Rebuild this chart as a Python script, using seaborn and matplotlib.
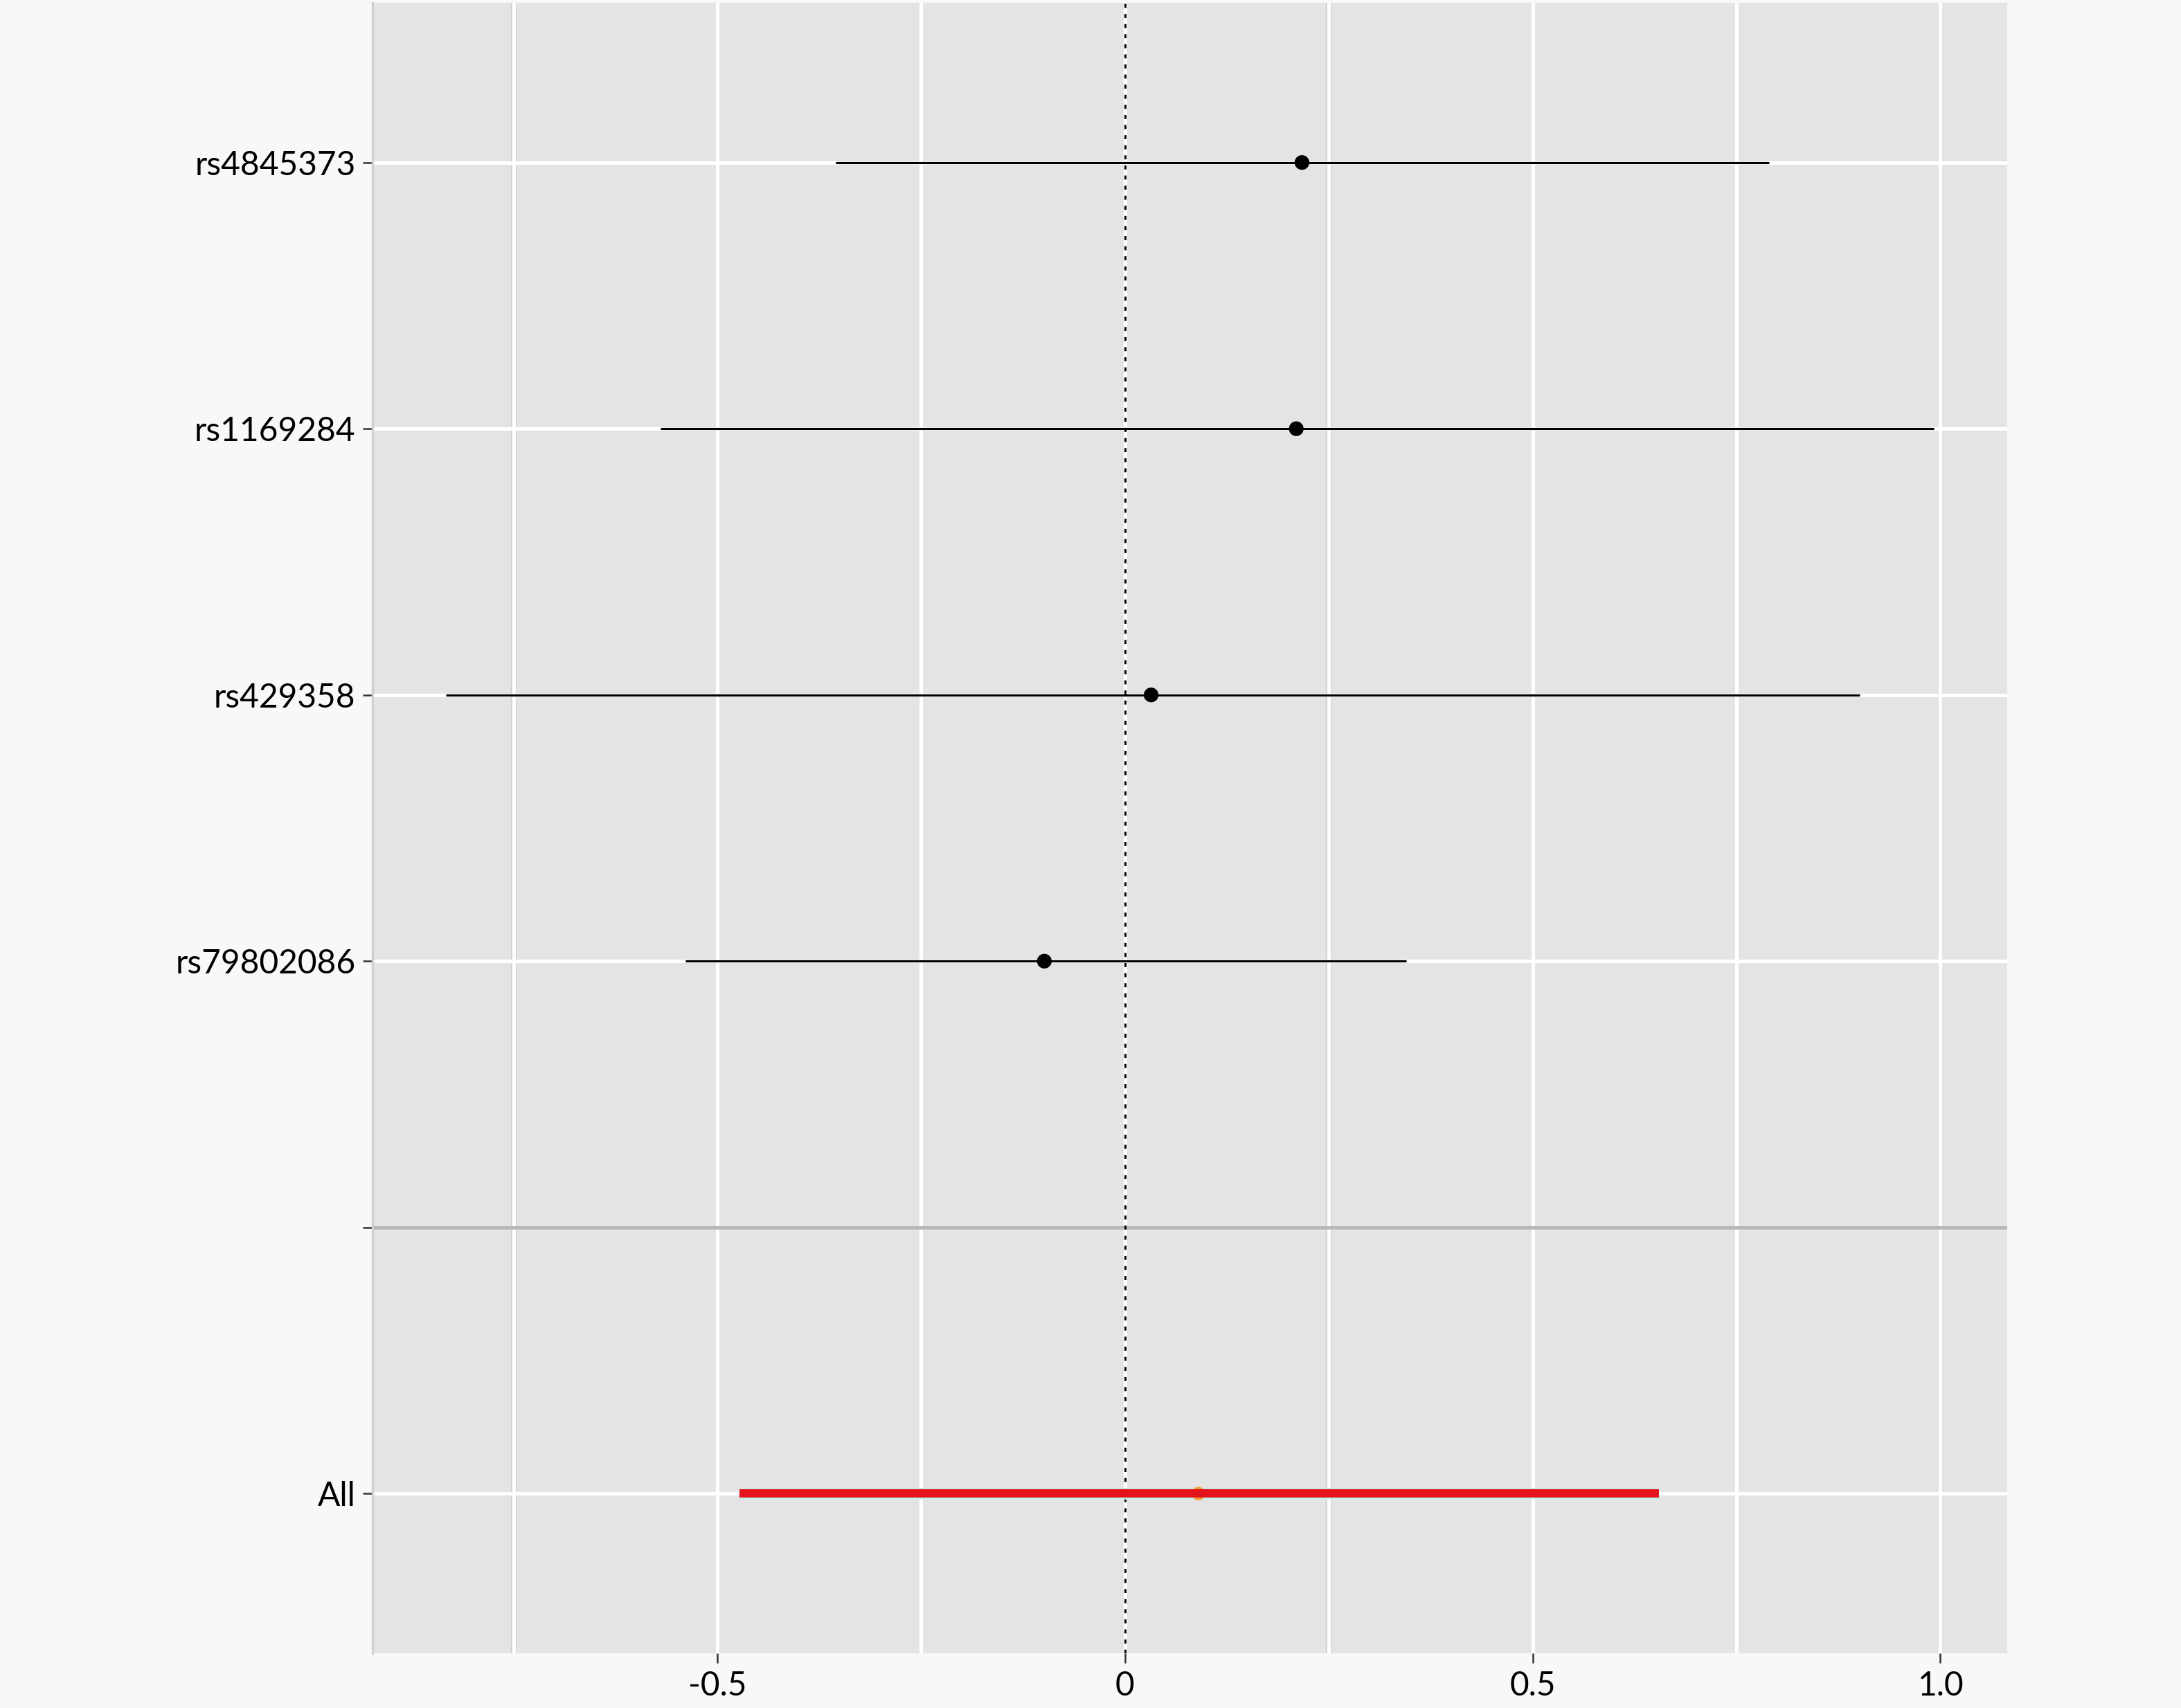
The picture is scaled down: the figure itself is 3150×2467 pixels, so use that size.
import matplotlib.pyplot as plt
import seaborn as sns
import pandas as pd

# per-SNP estimates with interval bounds
snps = ["rs4845373", "rs1169284", "rs429358", "rs79802086"]
est = [0.217, 0.210, 0.032, -0.099]
lower = [-0.355, -0.570, -0.833, -0.539]
upper = [0.790, 0.992, 0.901, 0.345]

# pooled estimate
all_label = "All"
all_est = 0.090
all_lower = -0.473
all_upper = 0.655

x_ticks = [-0.5, 0, 0.5, 1.0]
x_ticklabels = ["-0.5", "0", "0.5", "1.0"]

# rows from top: four SNPs, a blank separator row, then the pooled row
row_pos = [6, 5, 4, 3]
sep_pos = 2
all_pos = 1

df = pd.DataFrame({"snp": snps, "est": est, "lower": lower, "upper": upper, "y": row_pos})
df_all = pd.DataFrame({"snp": [all_label], "est": [all_est], "lower": [all_lower],
                       "upper": [all_upper], "y": [all_pos]})

sns.set_theme(style="darkgrid", rc={
    "axes.facecolor": "#e4e4e4",
    "figure.facecolor": "#f8f8f8",
    "grid.color": "white",
    "grid.linewidth": 1.2,
})
plt.rcParams["font.family"] = ["Lato", "DejaVu Sans"]

fig = plt.figure(figsize=(10.5, 2467 / 300))
ax = fig.add_axes([538 / 3150, 1 - 2388 / 2467, (2899 - 538) / 3150, (2388 - 4) / 2467])

# interval lines
ax.hlines(df["y"], df["lower"], df["upper"], color="black", lw=0.75, zorder=3)
sns.scatterplot(data=df, x="est", y="y", color="black", s=26, edgecolor="none", zorder=4, ax=ax)

# pooled row
ax.hlines(df_all["y"], df_all["lower"], df_all["upper"], color="#c8f2ea", lw=4.0, zorder=3)
sns.scatterplot(data=df_all, x="est", y="y", color="#f0a040", s=22, edgecolor="none", zorder=3.5, ax=ax)
ax.hlines(df_all["y"], df_all["lower"], df_all["upper"], color="#e3141c", lw=2.9, zorder=4)

# reference line at zero
ax.axvline(0, color="black", lw=0.7, ls=(0, (2, 3)), zorder=2.5)

ax.set_xlim(-0.923, 1.082)
ax.set_ylim(0.4, 6.6)
ax.set_xticks(x_ticks)
ax.set_xticklabels(x_ticklabels)
ax.set_xticks([-0.75, -0.25, 0.25, 0.75], minor=True)
ax.set_yticks(row_pos + [sep_pos, all_pos])
ax.set_yticklabels(snps + ["", all_label])

ax.grid(True, which="both", axis="x", color="white", lw=1.2)
ax.grid(True, which="major", axis="y", color="white", lw=1.2)
# separator row is drawn grey instead of white
ax.get_ygridlines()[4].set_color("#b8b8b8")
for xv in [-0.75, 0.25]:
    ax.axvline(xv, color="#d2d2d2", lw=2.0, zorder=0.4)

ax.tick_params(axis="both", which="major", length=3.4, width=0.6, color="#333333",
               labelsize=11.5, labelcolor="black", pad=2.5, bottom=True, left=True)
ax.tick_params(axis="both", which="minor", length=0)
ax.set_xlabel("")
ax.set_ylabel("")

for side in ["top", "right", "bottom"]:
    ax.spines[side].set_visible(False)
ax.spines["left"].set_color("#d0d0d0")
ax.spines["left"].set_linewidth(0.8)

fig.savefig("out.png", dpi=300)
